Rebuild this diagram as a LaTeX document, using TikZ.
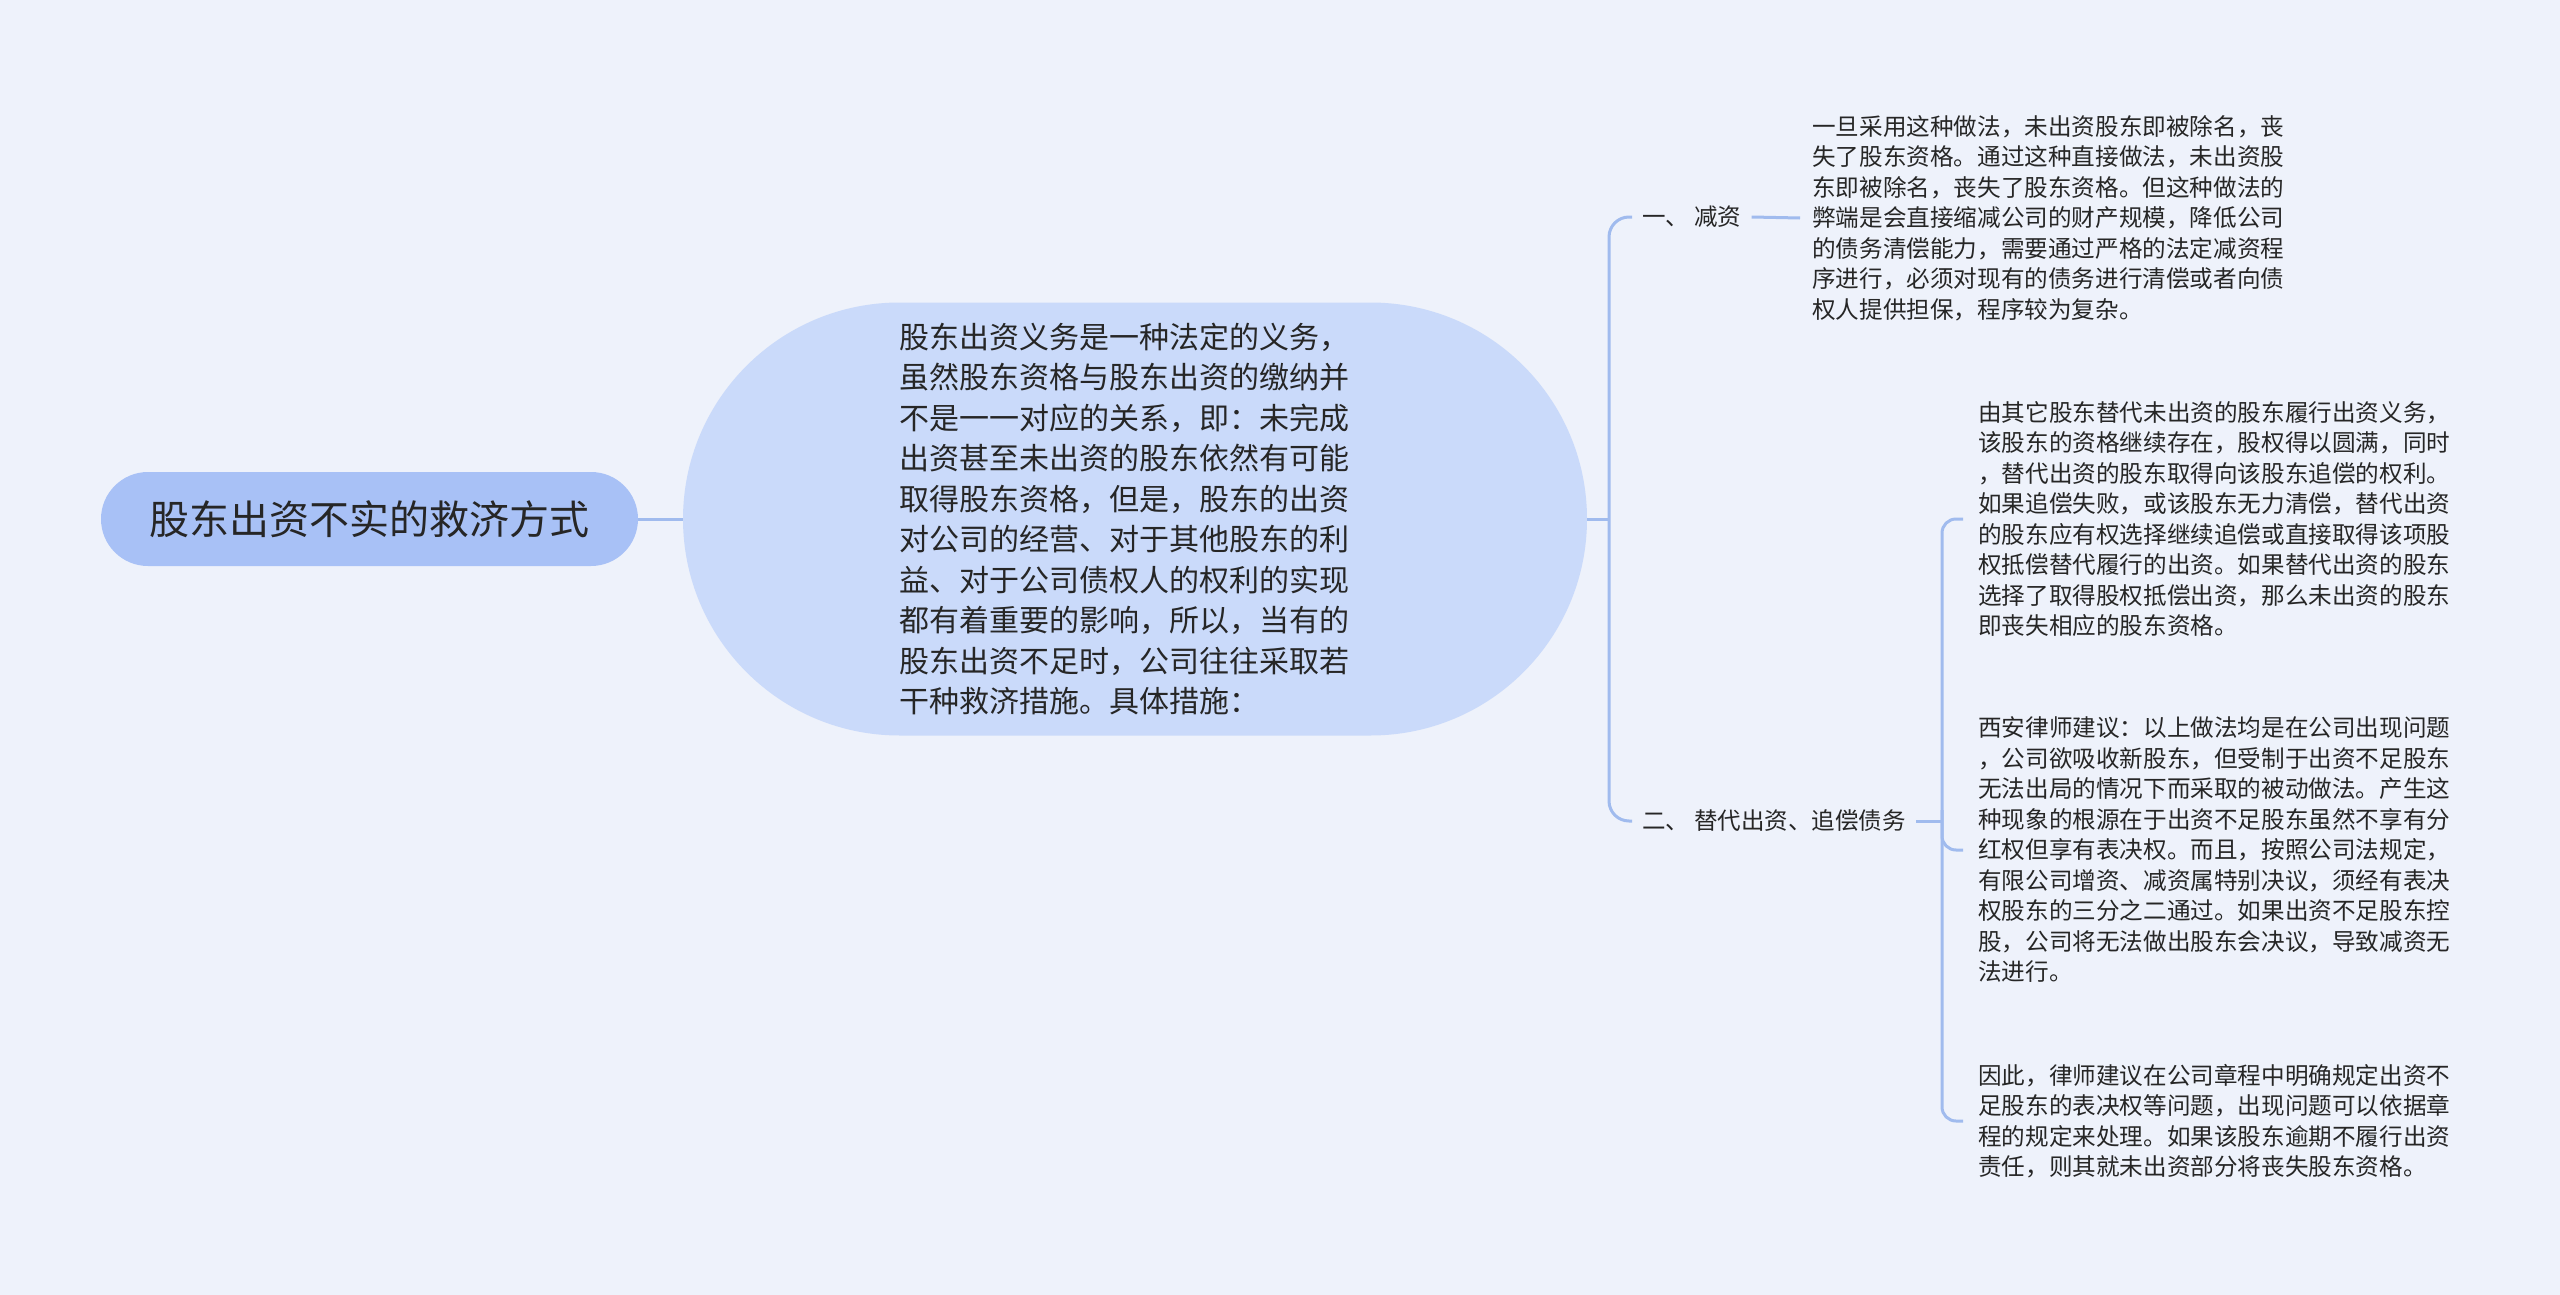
\documentclass[tikz,border=0pt]{standalone}
\usepackage{fontspec}
\newfontfamily\cjk{Noto Sans CJK SC}
\usetikzlibrary{shapes.misc}
\definecolor{bgc}{RGB}{238,242,251}
\definecolor{rootc}{RGB}{168,193,246}
\definecolor{mainc}{RGB}{202,218,250}
\definecolor{linec}{RGB}{160,187,238}
\definecolor{txtc}{RGB}{38,38,38}
\begin{document}
\begin{tikzpicture}[x=1pt,y=-1pt,
  conn/.style={draw=linec,line width=3pt},
  rootbox/.style={rounded rectangle, fill=rootc, minimum width=537pt, minimum height=94pt, inner sep=0pt, font=\cjk\fontsize{40}{48}\selectfont, text=txtc},
  mainbox/.style={rounded rectangle, fill=mainc, minimum width=904pt, minimum height=433pt, inner sep=0pt, align=left, font=\cjk\fontsize{30}{40.5}\selectfont, text=txtc},
  branch/.style={anchor=west, inner xsep=10pt, inner ysep=0pt, font=\cjk\fontsize{23.5}{30.5}\selectfont, text=txtc},
  leaf/.style={anchor=west, inner ysep=0pt, align=left, font=\cjk\fontsize{23.6}{30.5}\selectfont, text=txtc}]
\useasboundingbox (0,0) rectangle (2560,1295);
\fill[bgc] (0,0) rectangle (2560,1295);

\node[rootbox] (root) at (369.5,519) {股东出资不实的救济方式};
\node[mainbox] (main) at (1135,519) {股东出资义务是一种法定的义务，\rule{22pt}{0pt}\\
虽然股东资格与股东出资的缴纳并\\
不是一一对应的关系，即：未完成\\
出资甚至未出资的股东依然有可能\\
取得股东资格，但是，股东的出资\\
对公司的经营、对于其他股东的利\\
益、对于公司债权人的权利的实现\\
都有着重要的影响，所以，当有的\\
股东出资不足时，公司往往采取若\\
干种救济措施。具体措施：};

\node[branch] (b1) at (1632,217) {一、 减资};
\node[branch] (b2) at (1632,821) {二、 替代出资、追偿债务};

\node[leaf, inner xsep=12pt] (l1) at (1800,218) {一旦采用这种做法，未出资股东即被除名，丧\\
失了股东资格。通过这种直接做法，未出资股\\
东即被除名，丧失了股东资格。但这种做法的\\
弊端是会直接缩减公司的财产规模，降低公司\\
的债务清偿能力，需要通过严格的法定减资程\\
序进行，必须对现有的债务进行清偿或者向债\\
权人提供担保，程序较为复杂。};

\node[leaf, inner xsep=15pt] (l2a) at (1963,519) {由其它股东替代未出资的股东履行出资义务，\\
该股东的资格继续存在，股权得以圆满，同时\\
，替代出资的股东取得向该股东追偿的权利。\\
如果追偿失败，或该股东无力清偿，替代出资\\
的股东应有权选择继续追偿或直接取得该项股\\
权抵偿替代履行的出资。如果替代出资的股东\\
选择了取得股权抵偿出资，那么未出资的股东\\
即丧失相应的股东资格。};

\node[leaf, inner xsep=15pt] (l2b) at (1963,850) {西安律师建议：以上做法均是在公司出现问题\\
，公司欲吸收新股东，但受制于出资不足股东\\
无法出局的情况下而采取的被动做法。产生这\\
种现象的根源在于出资不足股东虽然不享有分\\
红权但享有表决权。而且，按照公司法规定，\\
有限公司增资、减资属特别决议，须经有表决\\
权股东的三分之二通过。如果出资不足股东控\\
股，公司将无法做出股东会决议，导致减资无\\
法进行。};

\node[leaf, inner xsep=15pt] (l2c) at (1963,1121) {因此，律师建议在公司章程中明确规定出资不\\
足股东的表决权等问题，出现问题可以依据章\\
程的规定来处理。如果该股东逾期不履行出资\\
责任，则其就未出资部分将丧失股东资格。};

\coordinate (j1) at (1609,519);
\coordinate (j2) at (1942,821);
\draw[conn] (root.east) -- (main.west);
\draw[conn] (main.east) -- (j1);
\draw[conn, rounded corners=20pt] (b1.west) -- (1609,217) -- (1609,821) -- (b2.west);
\draw[conn] (b1.east) -- (l1.west);
\draw[conn] (b2.east) -- (j2);
\draw[conn, rounded corners=14pt] (l2a.west) -- (1942,519) -- (1942,1121) -- (l2c.west);
\draw[conn, rounded corners=14pt] (1942,810) -- (1942,850) -- (l2b.west);
\end{tikzpicture}
\end{document}
